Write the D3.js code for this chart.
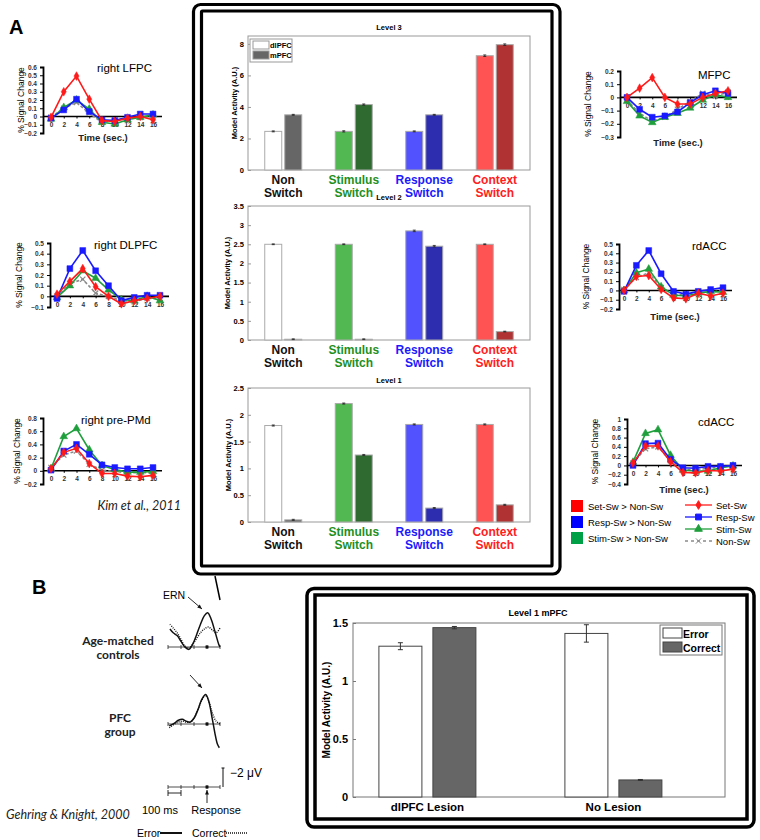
<!DOCTYPE html>
<html>
<head>
<meta charset="utf-8">
<script src="https://cdn.jsdelivr.net/npm/d3@7"></script>
<style>
body { margin: 0; background: #fff; }
text { font-family: "Liberation Sans", Arial, sans-serif; }
</style>
</head>
<body>
<div id="fig"></div>
<script>
// ---- data ----
var times = [0, 2, 4, 6, 8, 10, 12, 14, 16];

// fMRI time courses (% signal change), Kim et al. 2011
var lfpcSet  = [-0.01, 0.30, 0.49, 0.21, -0.05, -0.06, -0.02, 0.00, -0.04];
var lfpcResp = [-0.02, 0.08, 0.21, 0.06, -0.04, -0.05, -0.01, 0.03, 0.03];
var lfpcStim = [-0.03, 0.11, 0.20, 0.09, -0.07, -0.09, -0.04, -0.01, 0.02];
var lfpcNon  = [-0.01, 0.10, 0.17, 0.04, -0.07, -0.04, -0.02, -0.01, 0.00];

var dlpfcSet  = [0.02, 0.14, 0.26, 0.09, 0.00, -0.07, -0.04, -0.02, 0.00];
var dlpfcResp = [-0.02, 0.26, 0.43, 0.24, 0.10, -0.04, -0.01, 0.01, 0.01];
var dlpfcStim = [-0.01, 0.10, 0.24, 0.17, 0.06, -0.03, -0.04, 0.00, -0.04];
var dlpfcNon  = [0.00, 0.12, 0.16, 0.03, 0.00, -0.04, -0.05, -0.02, -0.02];

var pmdSet  = [0.03, 0.28, 0.34, 0.11, -0.04, -0.04, -0.08, -0.09, -0.07];
var pmdResp = [0.01, 0.30, 0.40, 0.25, 0.09, 0.05, 0.03, 0.03, 0.05];
var pmdStim = [0.03, 0.52, 0.64, 0.32, 0.08, 0.02, -0.02, -0.02, -0.01];
var pmdNon  = [0.05, 0.24, 0.30, 0.10, 0.01, -0.01, -0.03, -0.03, -0.03];

var mfpcSet  = [0.00, 0.07, 0.15, 0.00, -0.05, -0.05, 0.00, 0.03, 0.05];
var mfpcResp = [0.00, -0.09, -0.15, -0.14, -0.11, -0.04, 0.02, 0.05, 0.03];
var mfpcStim = [-0.03, -0.14, -0.19, -0.15, -0.12, -0.08, -0.02, 0.02, 0.00];
var mfpcNon  = [-0.02, -0.12, -0.18, -0.15, -0.09, -0.03, 0.03, 0.01, 0.04];

var rdaccSet  = [0.00, 0.15, 0.16, 0.01, -0.08, -0.09, -0.03, -0.06, -0.03];
var rdaccResp = [-0.01, 0.27, 0.43, 0.18, -0.01, -0.04, -0.01, 0.01, 0.03];
var rdaccStim = [0.00, 0.19, 0.23, 0.04, -0.05, -0.06, -0.03, -0.01, -0.02];
var rdaccNon  = [0.01, 0.14, 0.19, 0.03, -0.04, -0.05, -0.02, -0.02, 0.00];

var cdaccSet  = [0.05, 0.42, 0.42, 0.08, -0.15, -0.16, -0.11, -0.12, -0.08];
var cdaccResp = [0.00, 0.47, 0.48, 0.13, -0.05, -0.06, -0.02, -0.02, 0.00];
var cdaccStim = [0.07, 0.69, 0.77, 0.22, -0.10, -0.12, -0.12, -0.05, -0.01];
var cdaccNon  = [0.05, 0.36, 0.40, 0.10, -0.08, -0.10, -0.06, -0.04, 0.00];

var seriesNames = ["Set-Sw", "Resp-Sw", "Stim-Sw", "Non-Sw"];
var contrastNames = ["Set-Sw > Non-Sw", "Resp-Sw > Non-Sw", "Stim-Sw > Non-Sw"];

// model activity bars
var switchTypes = ["Non Switch", "Stimulus Switch", "Response Switch", "Context Switch"];
var regions = ["dlPFC", "mPFC"];
var level3Dl = [2.45, 2.45, 2.45, 7.25];
var level3Mp = [3.50, 4.15, 3.50, 7.95];
var level3Err = [0.03, 0.04, 0.03, 0.05];
var level2Dl = [2.50, 2.50, 2.85, 2.50];
var level2Mp = [0.02, 0.02, 2.45, 0.22];
var level2Err = [0.01, 0.01, 0.02, 0.01];
var level1Dl = [1.80, 2.21, 1.82, 1.82];
var level1Mp = [0.04, 1.25, 0.26, 0.32];
var level1Err = [0.01, 0.01, 0.01, 0.01];

var lesionGroups = ["dlPFC Lesion", "No Lesion"];
var outcomes = ["Error", "Correct"];
var mpfcError = [1.30, 1.41];
var mpfcErrorSe = [0.03, 0.075];
var mpfcCorrect = [1.46, 0.147];
var mpfcCorrectSe = [0.01, 0.004];

// ERP traces (ms relative to response, microvolts; negative plotted up)
var ctrlErrT = [-285, -260, -230, -200, -170, -140, -110, -80, -50, -20, 5, 30, 60, 90, 100];
var ctrlErrV = [-1.9, -1.5, -1.2, -0.6, 0.0, 0.25, -0.3, -1.3, -2.4, -3.3, -3.6, -3.0, -1.7, -0.3, 0.0];
var ctrlCorT = [-285, -260, -230, -200, -170, -140, -110, -80, -50, -20, 10, 40, 70, 100];
var ctrlCorV = [-2.4, -2.0, -1.5, -0.8, -0.1, 0.1, -0.3, -0.9, -1.5, -1.9, -2.1, -1.8, -1.5, -2.0];
var pfcErrT = [-290, -250, -220, -190, -160, -130, -100, -70, -40, -10, 15, 40, 60, 80, 95];
var pfcErrV = [0.2, -0.1, -0.4, -0.5, -0.3, -0.2, -0.6, -1.5, -2.6, -3.1, -2.3, -0.6, 0.9, 2.1, 2.5];
var pfcCorT = [-290, -250, -220, -190, -160, -130, -100, -70, -40, -10, 15, 40, 70, 100];
var pfcCorV = [0.4, 0.0, -0.2, -0.3, -0.2, -0.2, -0.6, -1.5, -2.5, -3.0, -2.4, -1.2, -0.3, 0.0];

// ---- drawing ----
var svg = d3.select("#fig").append("svg")
    .attr("width", 760)
    .attr("height", 840);

var sColors = ["#ff1a1a", "#1a1aff", "#1f9e3c", "#8a8a8a"];
var sSymbols = [d3.symbolDiamond, d3.symbolSquare, d3.symbolTriangle, d3.symbolX];
var sSizes = [22, 34, 26, 20];

function lineChart(c, series) {
    var x = d3.scaleLinear().domain([0, 16]).range([c.x0, c.x16]);
    var y = d3.scaleLinear().domain([c.ymin, c.ymax]).range([c.yb, c.yt]);
    var g = svg.append("g");

    var ticks = d3.range(0, Math.round((c.ymax - c.ymin) / c.step) + 1).map(function (i) {
        return +(c.ymin + i * c.step).toFixed(1);
    });
    var yaxis = g.append("g")
        .attr("transform", "translate(" + c.ax + ",0)")
        .call(d3.axisLeft(y).tickValues(ticks).tickSize(3).tickPadding(3)
            .tickFormat(function (d) { return d3.format("~g")(d); }));
    yaxis.select(".domain").attr("stroke-width", 1.8);
    yaxis.selectAll("text").style("font-size", "6.5px").style("font-weight", "bold").attr("fill", "#333");

    // zero line with time ticks
    g.append("line")
        .attr("x1", c.ax).attr("x2", c.x16 + 9)
        .attr("y1", y(0)).attr("y2", y(0))
        .attr("stroke", "#000").attr("stroke-width", 1.6);
    var xaxis = g.append("g")
        .attr("transform", "translate(0," + y(0) + ")")
        .call(d3.axisBottom(x).tickValues(times).tickSize(2).tickPadding(4));
    xaxis.select(".domain").remove();
    xaxis.selectAll("text").style("font-size", "6.5px").style("font-weight", "bold").attr("fill", "#333");

    var line = d3.line()
        .x(function (d, i) { return x(times[i]); })
        .y(function (d) { return y(d); });

    // draw non-switch first so red ends up on top
    [3, 2, 1, 0].forEach(function (k) {
        g.append("path")
            .datum(series[k])
            .attr("d", line)
            .attr("fill", "none")
            .attr("stroke", sColors[k])
            .attr("stroke-width", 1.6)
            .attr("stroke-dasharray", k == 3 ? "3,2" : null);
        g.selectAll(".m" + k)
            .data(series[k])
            .enter().append("path")
            .attr("transform", function (d, i) { return "translate(" + x(times[i]) + "," + y(d) + ")"; })
            .attr("d", d3.symbol().type(sSymbols[k]).size(sSizes[k]))
            .attr("fill", k == 3 ? "none" : sColors[k])
            .attr("stroke", sColors[k])
            .attr("stroke-width", k == 3 ? 1.2 : 0.5);
    });

    g.append("text")
        .attr("x", c.tx).attr("y", c.ty)
        .style("font-size", "11.5px")
        .text(c.title);
    g.append("text")
        .attr("transform", "translate(" + c.lx + "," + ((c.yt + c.yb) / 2) + ") rotate(-90)")
        .attr("text-anchor", "middle")
        .style("font-size", "8.5px")
        .text("% Signal Change");
    if (c.time) {
        g.append("text")
            .attr("x", c.time[0]).attr("y", c.time[1])
            .attr("text-anchor", "middle")
            .style("font-size", "9.5px")
            .style("font-weight", "bold")
            .attr("fill", "#222")
            .text("Time (sec.)");
    }
}

lineChart({ title: "right LFPC", ax: 43, x0: 51, x16: 153, ymin: -0.2, ymax: 0.6, yb: 133, yt: 67, step: 0.1,
    tx: 97, ty: 72, lx: 24, time: [103, 141] }, [lfpcSet, lfpcResp, lfpcStim, lfpcNon]);
lineChart({ title: "right DLPFC", ax: 50, x0: 57, x16: 160, ymin: -0.1, ymax: 0.5, yb: 307, yt: 243, step: 0.1,
    tx: 94, ty: 249, lx: 22 }, [dlpfcSet, dlpfcResp, dlpfcStim, dlpfcNon]);
lineChart({ title: "right pre-PMd", ax: 43, x0: 51, x16: 153, ymin: -0.2, ymax: 0.8, yb: 484, yt: 418, step: 0.2,
    tx: 81, ty: 424, lx: 20 }, [pmdSet, pmdResp, pmdStim, pmdNon]);
lineChart({ title: "MFPC", ax: 620, x0: 627, x16: 728, ymin: -0.3, ymax: 0.2, yb: 137, yt: 71, step: 0.1,
    tx: 698, ty: 79, lx: 591, time: [678, 146] }, [mfpcSet, mfpcResp, mfpcStim, mfpcNon]);
lineChart({ title: "rdACC", ax: 619, x0: 624, x16: 723, ymin: -0.2, ymax: 0.5, yb: 309, yt: 244, step: 0.1,
    tx: 692, ty: 250, lx: 589, time: [675, 320] }, [rdaccSet, rdaccResp, rdaccStim, rdaccNon]);
lineChart({ title: "cdACC", ax: 627, x0: 633, x16: 733, ymin: -0.4, ymax: 1, yb: 484, yt: 419, step: 0.2,
    tx: 698, ty: 426, lx: 598, time: [684, 493] }, [cdaccSet, cdaccResp, cdaccStim, cdaccNon]);

// legend under cdACC
var leg = svg.append("g");
contrastNames.forEach(function (n, i) {
    leg.append("rect")
        .attr("x", 571).attr("y", 500 + i * 16)
        .attr("width", 12).attr("height", 12)
        .attr("fill", ["#ff0000", "#0000ff", "#00a046"][i]);
    leg.append("text")
        .attr("x", 588).attr("y", 510 + i * 16)
        .style("font-size", "9.5px")
        .text(n);
});
seriesNames.forEach(function (n, i) {
    var yy = 505 + i * 12;
    leg.append("line")
        .attr("x1", 685).attr("x2", 712).attr("y1", yy).attr("y2", yy)
        .attr("stroke", sColors[i]).attr("stroke-width", 1.3)
        .attr("stroke-dasharray", i == 3 ? "3,3" : null);
    leg.append("path")
        .attr("transform", "translate(698.5," + yy + ")")
        .attr("d", d3.symbol().type(sSymbols[i]).size(sSizes[i]))
        .attr("fill", i == 3 ? "none" : sColors[i])
        .attr("stroke", sColors[i]);
    leg.append("text")
        .attr("x", 716).attr("y", yy + 3.5)
        .style("font-size", "9.5px")
        .text(n);
});

svg.append("text")
    .attr("x", 181).attr("y", 510)
    .attr("text-anchor", "end")
    .style("font-family", "Lato, 'Open Sans', sans-serif")
    .style("font-style", "italic")
    .style("font-size", "12.5px")
    .attr("fill", "#222")
    .text("Kim et al., 2011");

// panel letters
svg.append("text").attr("x", 9).attr("y", 34)
    .style("font-size", "20px").style("font-weight", "bold").text("A");
svg.append("text").attr("x", 32).attr("y", 594)
    .style("font-size", "20px").style("font-weight", "bold").text("B");

// ---- centre box: model activity by level ----
svg.append("rect")
    .attr("x", 193.5).attr("y", 4.5).attr("width", 366.5).attr("height", 569.5)
    .attr("rx", 7).attr("fill", "none").attr("stroke", "#000").attr("stroke-width", 3.2);
svg.append("rect")
    .attr("x", 201.5).attr("y", 11).attr("width", 350.5).attr("height", 555)
    .attr("rx", 1).attr("fill", "none").attr("stroke", "#000").attr("stroke-width", 3.2);
svg.append("line")
    .attr("x1", 215).attr("y1", 576).attr("x2", 220).attr("y2", 600)
    .attr("stroke", "#000").attr("stroke-width", 1.5);

var dlColors = ["#ffffff", "#52b852", "#5252ff", "#ff5252"];
var mpColors = ["#666666", "#2f6b31", "#2d2db0", "#b03232"];
var catColors = ["#111111", "#1f8f1f", "#1a1aff", "#ff2020"];

function barChart(c) {
    var left = 248, right = 530;
    var x = d3.scaleBand().domain(switchTypes).range([left, right]);
    var inner = d3.scaleBand().domain(regions).range([-18.5, 18.5]).paddingInner(0.15);
    var y = d3.scaleLinear().domain([0, c.ymax]).range([c.bottom, c.top]);
    var g = svg.append("g");

    g.append("rect")
        .attr("x", left).attr("y", c.top).attr("width", right - left).attr("height", c.bottom - c.top)
        .attr("fill", "none").attr("stroke", "#999").attr("stroke-width", 1);

    var yaxis = g.append("g")
        .attr("transform", "translate(" + left + ",0)")
        .call(d3.axisLeft(y).tickValues(d3.range(0, c.ymax + 1e-9, c.step)).tickSize(-3).tickPadding(4)
            .tickFormat(d3.format("~g")));
    yaxis.select(".domain").remove();
    yaxis.selectAll("line").attr("stroke", "#999");
    yaxis.selectAll("text").style("font-size", "7.5px").style("font-weight", "bold");

    var rows = switchTypes.map(function (s, i) {
        return [
            { cat: s, reg: "dlPFC", v: c.dl[i], e: c.err[i], fill: dlColors[i] },
            { cat: s, reg: "mPFC", v: c.mp[i], e: c.err[i], fill: mpColors[i] }
        ];
    });
    var bars = [].concat.apply([], rows);

    g.selectAll(".bar")
        .data(bars)
        .enter().append("rect")
        .attr("x", function (d) { return x(d.cat) + x.bandwidth() / 2 + inner(d.reg); })
        .attr("y", function (d) { return y(d.v); })
        .attr("width", inner.bandwidth())
        .attr("height", function (d) { return c.bottom - y(d.v); })
        .attr("fill", function (d) { return d.fill; })
        .attr("stroke", "#aaa")
        .attr("stroke-width", 1);

    g.selectAll(".err")
        .data(bars)
        .enter().append("path")
        .attr("d", function (d) {
            var cx = x(d.cat) + x.bandwidth() / 2 + inner(d.reg) + inner.bandwidth() / 2;
            var y1 = y(d.v + d.e), y2 = y(d.v - d.e);
            return "M" + (cx - 1.5) + "," + y1 + "H" + (cx + 1.5) + "M" + cx + "," + y1 + "V" + y2 +
                "M" + (cx - 1.5) + "," + y2 + "H" + (cx + 1.5);
        })
        .attr("stroke", "#222").attr("stroke-width", 0.8).attr("fill", "none");

    switchTypes.forEach(function (s, i) {
        var words = s.split(" ");
        var t = g.append("text")
            .attr("x", x(s) + x.bandwidth() / 2)
            .attr("y", c.bottom + 14)
            .attr("text-anchor", "middle")
            .style("font-size", "12px")
            .style("font-weight", "bold")
            .attr("fill", catColors[i]);
        t.append("tspan").attr("x", x(s) + x.bandwidth() / 2).text(words[0]);
        t.append("tspan").attr("x", x(s) + x.bandwidth() / 2).attr("dy", 12.5).text(words[1]);
    });

    g.append("text")
        .attr("x", (left + right) / 2).attr("y", c.titleY)
        .attr("text-anchor", "middle")
        .style("font-size", "7.5px").style("font-weight", "bold")
        .text(c.title);
    g.append("text")
        .attr("transform", "translate(" + c.lx + "," + ((c.top + c.bottom) / 2) + ") rotate(-90)")
        .attr("text-anchor", "middle")
        .style("font-size", "7.5px").style("font-weight", "bold")
        .text("Model Activity (A.U.)");
    return g;
}

var l3 = barChart({ title: "Level 3", titleY: 30, top: 36, bottom: 170, ymax: 8.5, step: 2,
    dl: level3Dl, mp: level3Mp, err: level3Err, lx: 237 });
barChart({ title: "Level 2", titleY: 200, top: 206, bottom: 340, ymax: 3.5, step: 0.5,
    dl: level2Dl, mp: level2Mp, err: level2Err, lx: 230 });
barChart({ title: "Level 1", titleY: 383, top: 388, bottom: 522, ymax: 2.5, step: 0.5,
    dl: level1Dl, mp: level1Mp, err: level1Err, lx: 231 });

// Level 3 legend
l3.append("rect").attr("x", 250).attr("y", 39).attr("width", 42).attr("height", 23)
    .attr("fill", "#fff").attr("stroke", "#999");
regions.forEach(function (r, i) {
    l3.append("rect").attr("x", 253).attr("y", 41 + i * 10).attr("width", 16).attr("height", 8)
        .attr("fill", i == 0 ? "#fff" : "#666").attr("stroke", "#999");
    l3.append("text").attr("x", 270).attr("y", 48 + i * 10)
        .style("font-size", "7.5px").style("font-weight", "bold").text(r);
});

// ---- bottom right box: Level 1 mPFC ----
svg.append("rect")
    .attr("x", 307).attr("y", 588.5).attr("width", 447).attr("height", 238.5)
    .attr("rx", 7).attr("fill", "none").attr("stroke", "#000").attr("stroke-width", 3.5);
svg.append("rect")
    .attr("x", 315).attr("y", 595).attr("width", 432).attr("height", 224)
    .attr("fill", "none").attr("stroke", "#000").attr("stroke-width", 3.5);

(function () {
    var left = 353, right = 725, top = 623, bottom = 797;
    var x = d3.scaleLinear().domain([0.6, 2.6]).range([left, right]);
    var y = d3.scaleLinear().domain([0, 1.5]).range([bottom, top]);
    var g = svg.append("g");
    var bw = 43;

    g.append("rect").attr("x", left).attr("y", top).attr("width", right - left).attr("height", bottom - top)
        .attr("fill", "none").attr("stroke", "#777").attr("stroke-width", 1);

    var yaxis = g.append("g").attr("transform", "translate(" + left + ",0)")
        .call(d3.axisLeft(y).tickValues([0, 0.5, 1, 1.5]).tickSize(-3).tickPadding(5).tickFormat(d3.format("~g")));
    yaxis.select(".domain").remove();
    yaxis.selectAll("line").attr("stroke", "#777");
    yaxis.selectAll("text").style("font-size", "11px").style("font-weight", "bold");

    var bars = [];
    lesionGroups.forEach(function (grp, i) {
        bars.push({ pos: i + 1, off: -27, v: mpfcError[i], e: mpfcErrorSe[i], fill: "#fff" });
        bars.push({ pos: i + 1, off: 27, v: mpfcCorrect[i], e: mpfcCorrectSe[i], fill: "#666" });
    });
    g.selectAll(".b").data(bars).enter().append("rect")
        .attr("x", function (d) { return x(d.pos) + d.off - bw / 2; })
        .attr("y", function (d) { return y(d.v); })
        .attr("width", bw)
        .attr("height", function (d) { return bottom - y(d.v); })
        .attr("fill", function (d) { return d.fill; })
        .attr("stroke", "#444").attr("stroke-width", 1);
    g.selectAll(".e").data(bars).enter().append("path")
        .attr("d", function (d) {
            var cx = x(d.pos) + d.off, y1 = y(d.v + d.e), y2 = y(d.v - d.e);
            return "M" + (cx - 2.5) + "," + y1 + "H" + (cx + 2.5) + "M" + cx + "," + y1 + "V" + y2 +
                "M" + (cx - 2.5) + "," + y2 + "H" + (cx + 2.5);
        })
        .attr("stroke", "#333").attr("stroke-width", 1).attr("fill", "none");

    lesionGroups.forEach(function (grp, i) {
        g.append("text").attr("x", x(i + 1)).attr("y", 811)
            .attr("text-anchor", "middle")
            .style("font-size", "11.5px").style("font-weight", "bold")
            .text(grp);
    });
    g.append("text").attr("x", 538).attr("y", 616).attr("text-anchor", "middle")
        .style("font-size", "9px").style("font-weight", "bold").text("Level 1 mPFC");
    g.append("text")
        .attr("transform", "translate(330," + ((top + bottom) / 2) + ") rotate(-90)")
        .attr("text-anchor", "middle")
        .style("font-size", "10px").style("font-weight", "bold")
        .text("Model Activity (A.U.)");

    g.append("rect").attr("x", 660).attr("y", 625).attr("width", 62).attr("height", 30)
        .attr("fill", "#fff").attr("stroke", "#777");
    outcomes.forEach(function (o, i) {
        g.append("rect").attr("x", 663).attr("y", 628 + i * 14).attr("width", 19).attr("height", 10)
            .attr("fill", i == 0 ? "#fff" : "#666").attr("stroke", "#444");
        g.append("text").attr("x", 683).attr("y", 637.5 + i * 14)
            .style("font-size", "10.5px").style("font-weight", "bold").text(o);
    });
})();

// ---- B: ERN waveforms (Gehring & Knight, 2000) ----
(function () {
    var x = d3.scaleLinear().domain([-300, 100]).range([168, 220]);
    var g = svg.append("g");
    var lab = "Lato, 'Open Sans', sans-serif";

    function trace(ts, vs, base, dotted) {
        var y = d3.scaleLinear().domain([-4, 4]).range([base - 38, base + 38]);
        g.append("path")
            .datum(ts.map(function (t, i) { return [t, vs[i]]; }))
            .attr("d", d3.line().curve(d3.curveCatmullRom)
                .x(function (d) { return x(d[0]); })
                .y(function (d) { return y(d[1]); }))
            .attr("fill", "none").attr("stroke", "#111")
            .attr("stroke-width", dotted ? 1.4 : 1.5)
            .attr("stroke-dasharray", dotted ? "1,1.2" : null);
    }
    function baseline(base) {
        g.append("line").attr("x1", x(-300)).attr("x2", x(100)).attr("y1", base).attr("y2", base)
            .attr("stroke", "#222").attr("stroke-width", 0.8);
        [-300, -200, -100, 0, 100].forEach(function (t) {
            g.append("line").attr("x1", x(t)).attr("x2", x(t)).attr("y1", base - 2).attr("y2", base + 2)
                .attr("stroke", "#222").attr("stroke-width", 0.8);
        });
        g.append("rect").attr("x", x(0) - 1.5).attr("y", base - 1.5).attr("width", 3).attr("height", 3).attr("fill", "#111");
    }
    function arrow(x1, y1, x2, y2) {
        g.append("line").attr("x1", x1).attr("y1", y1).attr("x2", x2).attr("y2", y2)
            .attr("stroke", "#111").attr("stroke-width", 0.9);
        var a = Math.atan2(y2 - y1, x2 - x1);
        g.append("path")
            .attr("d", "M" + x2 + "," + y2 + "L" + (x2 - 5 * Math.cos(a - 0.4)) + "," + (y2 - 5 * Math.sin(a - 0.4)) +
                "L" + (x2 - 5 * Math.cos(a + 0.4)) + "," + (y2 - 5 * Math.sin(a + 0.4)) + "Z")
            .attr("fill", "#111");
    }

    baseline(647);
    trace(ctrlErrT, ctrlErrV, 647, false);
    trace(ctrlCorT, ctrlCorV, 647, true);
    baseline(724);
    trace(pfcErrT, pfcErrV, 724, false);
    trace(pfcCorT, pfcCorV, 724, true);

    g.append("text").attr("x", 163).attr("y", 599).style("font-size", "10.5px").text("ERN");
    arrow(188, 597, 202, 609);
    arrow(190, 675, 202, 688);

    [["Age-matched", 118, 645], ["controls", 118, 659], ["PFC", 120, 722], ["group", 120, 736]].forEach(function (t) {
        g.append("text").attr("x", t[1]).attr("y", t[2]).attr("text-anchor", "middle")
            .style("font-family", lab).style("font-weight", "bold").style("font-size", "12px")
            .attr("fill", "#222").text(t[0]);
    });

    // scale bars
    baseline(787);
    g.append("line").attr("x1", 223).attr("x2", 223).attr("y1", 768).attr("y2", 787).attr("stroke", "#111");
    g.append("line").attr("x1", 221.5).attr("x2", 224.5).attr("y1", 768).attr("y2", 768).attr("stroke", "#111");
    g.append("path").attr("d", "M" + x(-300) + ",790V796M" + x(-300) + ",793H" + x(-200) + "M" + x(-200) + ",790V796")
        .attr("stroke", "#111").attr("fill", "none").attr("stroke-width", 0.9);
    arrow(x(0), 803, x(0), 790);
    g.append("text").attr("x", 230).attr("y", 777).style("font-size", "12px").text("\u22122 \u03bcV");
    g.append("text").attr("x", 160).attr("y", 814).attr("text-anchor", "middle").style("font-size", "11px").text("100 ms");
    g.append("text").attr("x", 216).attr("y", 814).attr("text-anchor", "middle").style("font-size", "11px").text("Response");
    g.append("text").attr("x", 6).attr("y", 819)
        .style("font-family", lab).style("font-style", "italic").style("font-size", "12.5px")
        .attr("fill", "#222").text("Gehring & Knight, 2000");
    g.append("text").attr("x", 137).attr("y", 837).style("font-size", "10.5px").text("Error");
    g.append("line").attr("x1", 160).attr("x2", 182).attr("y1", 833).attr("y2", 833).attr("stroke", "#111").attr("stroke-width", 2);
    g.append("text").attr("x", 192).attr("y", 837).style("font-size", "10.5px").text("Correct");
    g.append("line").attr("x1", 226).attr("x2", 247).attr("y1", 833).attr("y2", 833)
        .attr("stroke", "#111").attr("stroke-width", 1.5).attr("stroke-dasharray", "1,1");
})();
</script>
</body>
</html>
